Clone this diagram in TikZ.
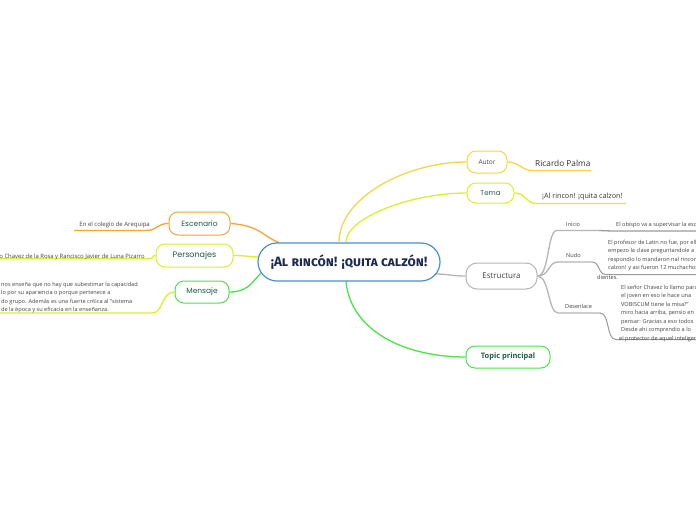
\documentclass[tikz,border=0pt]{standalone}
\usepackage{fontspec}
\setmainfont{Open Sans}
\newfontfamily\labfont{Poppins}
\newfontfamily\titfont[Letters=SmallCaps]{Fira Sans}
\usetikzlibrary{backgrounds}
\definecolor{cblue}{HTML}{4A8FD0}
\definecolor{cnavy}{HTML}{1B2A4E}
\definecolor{corange}{HTML}{F5A43A}
\definecolor{cyellow}{HTML}{F7D448}
\definecolor{cygreen}{HTML}{D9F02A}
\definecolor{cgreen}{HTML}{4BE34B}
\definecolor{cgray}{HTML}{B5B5B5}
\definecolor{cdgray}{HTML}{9A9A9A}
\definecolor{cteal}{HTML}{1F5A48}
\definecolor{ctext}{HTML}{444444}
\tikzset{
  topicbox/.style={draw, line width=1pt, fill=white, rounded corners=9pt, minimum height=22pt, inner sep=0pt},
  rootbox/.style={draw=cblue, line width=1.2pt, fill=white, rounded corners=19pt, minimum width=182pt, minimum height=38pt, inner sep=0pt},
  conn/.style={line width=1.3pt},
  small/.style={font=\fontsize{5.6}{8.5}\selectfont, text=ctext, inner sep=0pt},
}
\begin{document}
\begin{tikzpicture}[x=1pt,y=-1pt]
\useasboundingbox (0,0) rectangle (696,520);
\clip (0,0) rectangle (696,520);

% root
\node[rootbox] (c) at (349,262) {\titfont\bfseries\fontsize{13.5}{15}\selectfont\color{cnavy}¡Al rincón! ¡quita calzón!};

% right topics
\node[topicbox, draw=cyellow, minimum width=40pt] (autor) at (487,162) {\fontsize{6.5}{8}\selectfont\color{ctext}Autor};
\node[topicbox, draw=cygreen, minimum width=47pt, minimum height=20pt] (tema) at (490.5,193) {\labfont\fontsize{7}{8}\selectfont\color{cteal}Tema};
\node[topicbox, draw=cgray, minimum width=71pt, minimum height=26pt, rounded corners=11pt] (estr) at (501.5,276) {\fontsize{8}{9}\selectfont\color{ctext}Estructura};
\node[topicbox, draw=cgreen, minimum width=84pt] (topic) at (508,357) {\bfseries\fontsize{7.5}{9}\selectfont\color{cteal}Topic principal};

% left topics
\node[topicbox, draw=corange, minimum width=61pt, minimum height=23pt] (esc) at (199.5,223.5) {\labfont\fontsize{7.5}{9}\selectfont\color{cteal}Escenario};
\node[topicbox, draw=cygreen, minimum width=77pt, minimum height=23pt] (pers) at (194.5,255.5) {\labfont\fontsize{8}{9}\selectfont\color{cteal}Personajes};
\node[topicbox, draw=cgreen, minimum width=54pt, minimum height=22pt] (mens) at (202,292) {\labfont\fontsize{7.5}{9}\selectfont\color{cteal}Mensaje};

% leaf texts
\node[anchor=base west, inner sep=0pt, font=\fontsize{8.3}{10}\selectfont, text=black!80] (rp) at (535,166) {Ricardo Palma};
\coordinate (rpL) at (533,170.5); \coordinate (rpR) at (591,170.5);
\node[anchor=base west, inner sep=0pt, font=\fontsize{7.2}{9}\selectfont, text=black!80] (tm) at (542,198) {¡Al rincon! ¡quita calzon!};
\coordinate (tmL) at (537,203.5); \coordinate (tmR) at (626,203.5);

\node[small, anchor=base west] (ini) at (566,226) {Inicio};
\coordinate (iniL) at (557,230.5); \coordinate (iniR) at (599,230.5);
\node[small, anchor=base west] (inix) at (616,226) {El obispo va a supervisar la escuela};
\coordinate (inixL) at (612,231); \coordinate (inixR) at (700,231);

\node[small, anchor=base west] (nudo) at (566,257) {Nudo};
\coordinate (nudoL) at (558,262); \coordinate (nudoR) at (592,262);
\node[small, anchor=north west, align=left] (nudox) at (608,239.8) {El profesor de Latin no fue, por ello\\empezo la clase preguntandole a\\respondio lo mandaron nal rincon\\calzon! y asi fueron 12 muchachos\\[0.8pt]\hspace*{-11pt}dientes.};
\coordinate (nudoxL) at (606,274.5); \coordinate (nudoxR) at (700,274.5);

\node[small, anchor=base west] (desen) at (565,308) {Desenlace};
\coordinate (desenL) at (558,313); \coordinate (desenR) at (600,313);
\node[small, anchor=north west, align=left] (desenx) at (621,284.8) {El señor Chavez lo llamo para\\el joven en eso le hace una\\VOBISCUM tiene la misa?”\\miro hacia arriba, pensio en\\pensar: Gracias a eso todos\\Desde ahi comprendio a lo\\\hspace*{-2pt}el protector de aquel inteligente};
\coordinate (desenxL) at (616,339.5); \coordinate (desenxR) at (700,339.5);

\node[small, anchor=base east, font=\fontsize{6}{8}\selectfont] (escx) at (150,226) {En el colegio de Arequipa};
\coordinate (escxR) at (146,230.5); \coordinate (escxL) at (74,230.5);

\node[small, anchor=base east, font=\fontsize{5.9}{8}\selectfont] (persx) at (145,258) {o Chavez de la Rosa y Rancisco Javier de Luna Pizarro};
\coordinate (persxR) at (150,258.5); \coordinate (persxL) at (-5,258.5);

\node[small, anchor=north west, align=left] (mensx) at (1,281.8) {nos enseña que no hay que subestimar la capacidad\\lo por su apariencia o porque pertenece a\\do grupo. Además es una fuerte crítica al "sistema\\de la época y su eficacia en la enseñanza.};
\coordinate (mensxR) at (152,313); \coordinate (mensxL) at (-5,313);

\begin{scope}[on background layer]
\fill[white] (0,0) rectangle (696,520);
% root connectors
\draw[conn, cyellow] ([xshift=-10pt]c.north) .. controls +(0,-45) and +(-60,0) .. (autor.west);
\draw[conn, cygreen] ([xshift=-3pt]c.north) .. controls +(0,-25) and +(-55,0) .. (tema.west);
\draw[conn, cgray] ([xshift=-6pt,yshift=-12pt]c.east) .. controls +(15,0) and +(-15,0) .. (estr.west);
\draw[conn, cgreen] ([xshift=-3pt]c.south) .. controls +(5,50) and +(-60,0) .. (topic.west);
\draw[conn, corange] (esc.east) .. controls +(30,2) and +(-15,-5) .. ([xshift=-70pt]c.north);
\draw[conn, cygreen] (pers.east) .. controls +(12,0) and +(-10,0) .. ([xshift=3pt,yshift=5pt]c.west);
\draw[conn, cgreen] (mens.east) .. controls +(22,0) and +(-12,8) .. ([xshift=-84pt,yshift=-8pt]c.center);
% leaf connectors
\draw[conn, cyellow] (autor.east) .. controls +(12,0) and +(-12,0) .. (rpL) -- (rpR);
\draw[conn, cygreen] (tema.east) .. controls +(12,0) and +(-12,0) .. (tmL) -- (tmR);
\draw[conn, cgray] (estr.east) .. controls +(12,0) and +(-10,0) .. (iniL) -- (iniR);
\draw[conn, cdgray] (iniR) .. controls +(6,0) and +(-6,0) .. (inixL) -- (inixR);
\draw[conn, cgray] (estr.east) .. controls +(12,0) and +(-10,0) .. (nudoL) -- (nudoR);
\draw[conn, cdgray, line width=1pt] (nudoR) .. controls +(8,0) and +(-8,0) .. (nudoxL) -- (nudoxR);
\draw[conn, cgray] (estr.east) .. controls +(12,0) and +(-10,0) .. (desenL) -- (desenR);
\draw[conn, cdgray, line width=1pt] (desenR) .. controls +(10,0) and +(-10,0) .. (desenxL) -- (desenxR);
\draw[conn, corange] (esc.west) .. controls +(-12,0) and +(12,0) .. (escxR) -- (escxL);
\draw[conn, cygreen] (pers.west) .. controls +(-4,0) and +(4,0) .. (persxR) -- (persxL);
\draw[conn, cygreen] (mens.west) .. controls +(-14,0) and +(12,0) .. (mensxR) -- (mensxL);
\end{scope}
\end{tikzpicture}
\end{document}
